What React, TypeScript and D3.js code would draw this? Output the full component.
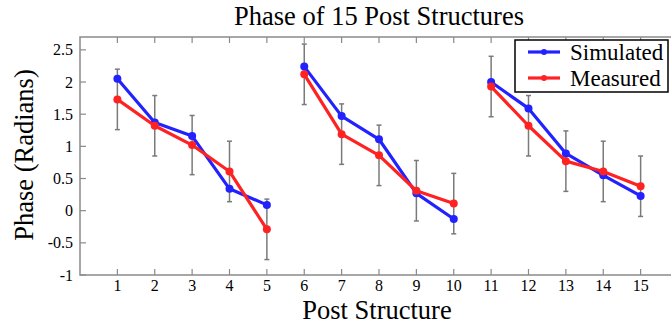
import React, { useEffect, useRef } from 'react';
import { select, scaleLinear, line, range } from 'd3';

const posts = range(1, 16);
const simulated = [2.05, 1.37, 1.16, 0.34, 0.09, 2.24, 1.47, 1.11, 0.27, -0.13, 2.0, 1.59, 0.89, 0.55, 0.23];
const measured = [1.73, 1.32, 1.02, 0.61, -0.29, 2.12, 1.19, 0.86, 0.31, 0.11, 1.93, 1.32, 0.77, 0.61, 0.38];
const errors = [0.47, 0.47, 0.46, 0.47, 0.47, 0.47, 0.47, 0.47, 0.47, 0.47, 0.47, 0.47, 0.47, 0.47, 0.47];
const yTicks = [-1, -0.5, 0, 0.5, 1, 1.5, 2, 2.5];
const seriesNames = ['Simulated', 'Measured'];
const seriesColors = ['#2222ff', '#ff2222'];

const W = 671;
const H = 328;
const margin = { left: 80, right: 678, top: 37, bottom: 275 };
const serif = "'Liberation Serif', 'Times New Roman', Times, serif";

const App = () => {
  const svgRef = useRef<SVGSVGElement>(null);

  useEffect(() => {
    const svg = select(svgRef.current);
    svg.selectAll('*').remove();

    const x = scaleLinear().domain([0, 16]).range([margin.left, margin.right]);
    const y = scaleLinear().domain([-1, 2.7]).range([margin.bottom, margin.top]);

    const axisColor = '#8a8a8a';

    // frame
    svg.append('rect')
      .attr('x', margin.left).attr('y', margin.top)
      .attr('width', margin.right - margin.left).attr('height', margin.bottom - margin.top)
      .attr('fill', 'none').attr('stroke', axisColor).attr('stroke-width', 1.5);

    // x ticks, bottom and top, pointing in
    svg.selectAll('.xt-b').data(posts).join('line')
      .attr('class', 'xt-b')
      .attr('x1', d => x(d)).attr('x2', d => x(d))
      .attr('y1', margin.bottom).attr('y2', margin.bottom - 6)
      .attr('stroke', axisColor).attr('stroke-width', 1.2);
    svg.selectAll('.xt-t').data(posts).join('line')
      .attr('class', 'xt-t')
      .attr('x1', d => x(d)).attr('x2', d => x(d))
      .attr('y1', margin.top).attr('y2', margin.top + 6)
      .attr('stroke', axisColor).attr('stroke-width', 1.2);
    svg.selectAll('.xl').data(posts).join('text')
      .attr('class', 'xl')
      .attr('x', d => x(d)).attr('y', 291)
      .attr('text-anchor', 'middle')
      .style('font-family', serif).style('font-size', '16px')
      .text(d => d);

    // y ticks, left and right
    svg.selectAll('.yt-l').data(yTicks).join('line')
      .attr('class', 'yt-l')
      .attr('x1', margin.left).attr('x2', margin.left + 6)
      .attr('y1', d => y(d)).attr('y2', d => y(d))
      .attr('stroke', axisColor).attr('stroke-width', 1.2);
    svg.selectAll('.yt-r').data(yTicks).join('line')
      .attr('class', 'yt-r')
      .attr('x1', margin.right).attr('x2', margin.right - 6)
      .attr('y1', d => y(d)).attr('y2', d => y(d))
      .attr('stroke', axisColor).attr('stroke-width', 1.2);
    svg.selectAll('.yl').data(yTicks).join('text')
      .attr('class', 'yl')
      .attr('x', margin.left - 7).attr('y', d => y(d) + 5.5)
      .attr('text-anchor', 'end')
      .style('font-family', serif).style('font-size', '16px')
      .text(d => String(d));

    // error bars sit on the measured values
    const eb = svg.append('g').attr('stroke', '#7a7a7a').attr('stroke-width', 1.5);
    posts.forEach((p, i) => {
      const lo = y(measured[i] - errors[i]);
      const hi = y(measured[i] + errors[i]);
      eb.append('line').attr('x1', x(p)).attr('x2', x(p)).attr('y1', lo).attr('y2', hi);
      eb.append('line').attr('x1', x(p) - 2.5).attr('x2', x(p) + 2.5).attr('y1', lo).attr('y2', lo);
      eb.append('line').attr('x1', x(p) - 2.5).attr('x2', x(p) + 2.5).attr('y1', hi).attr('y2', hi);
    });

    // lines are broken every 5 posts
    const segments = [[0, 5], [5, 10], [10, 15]];
    const drawSeries = (values: number[], color: string) => {
      segments.forEach(([a, b]) => {
        const pts = values.map((v, i) => [x(posts[i]), y(v)] as [number, number]).slice(a, b);
        svg.append('path')
          .attr('d', line()(pts))
          .attr('fill', 'none').attr('stroke', color).attr('stroke-width', 3.2)
          .attr('stroke-linejoin', 'round');
      });
      svg.append('g').selectAll('circle').data(values).join('circle')
        .attr('cx', (d, i) => x(posts[i])).attr('cy', d => y(d))
        .attr('r', 4).attr('fill', color);
    };
    drawSeries(simulated, seriesColors[0]);
    drawSeries(measured, seriesColors[1]);

    // legend
    const lg = svg.append('g');
    lg.append('rect')
      .attr('x', 515).attr('y', 40).attr('width', 153).attr('height', 52)
      .attr('fill', 'white').attr('stroke', 'black').attr('stroke-width', 1.5);
    seriesNames.forEach((name, i) => {
      const ly = 52 + i * 26;
      lg.append('line')
        .attr('x1', 528).attr('x2', 560).attr('y1', ly).attr('y2', ly)
        .attr('stroke', seriesColors[i]).attr('stroke-width', 3.2);
      lg.append('circle').attr('cx', 544).attr('cy', ly).attr('r', 3).attr('fill', seriesColors[i]);
      lg.append('text')
        .attr('x', 570).attr('y', ly + 8)
        .style('font-family', serif).style('font-size', '23px')
        .text(name);
    });

    // titles
    const cx = (margin.left + margin.right) / 2;
    svg.append('text')
      .attr('x', cx).attr('y', 25)
      .attr('text-anchor', 'middle')
      .style('font-family', serif).style('font-size', '26.5px')
      .text('Phase of 15 Post Structures');
    svg.append('text')
      .attr('x', cx - 2).attr('y', 319)
      .attr('text-anchor', 'middle')
      .style('font-family', serif).style('font-size', '26.5px')
      .text('Post Structure');
    svg.append('text')
      .attr('transform', 'translate(33, 155) rotate(-90)')
      .attr('text-anchor', 'middle')
      .style('font-family', serif).style('font-size', '26.5px')
      .text('Phase (Radians)');
  }, []);

  return (
    <div style={{ position: 'fixed', left: 0, top: 0 }}>
      <svg ref={svgRef} width={W} height={H} style={{ display: 'block', background: 'white' }} />
    </div>
  );
};

export default App;
